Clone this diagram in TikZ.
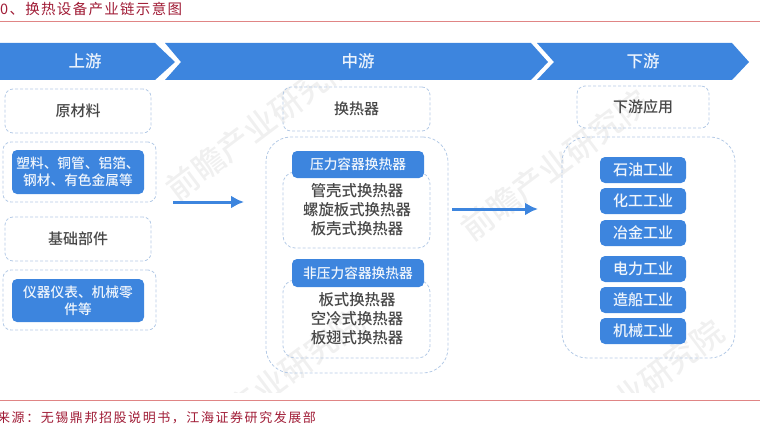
\documentclass[tikz,border=0pt]{standalone}
\usepackage{fontspec}
\setmainfont{Noto Sans CJK SC Medium}
\newfontfamily\titlefont[LetterSpace=9]{Noto Sans CJK SC}
\newfontfamily\sourcefont[LetterSpace=12]{Noto Sans CJK SC}
\usetikzlibrary{arrows.meta}
\definecolor{bandblue}{HTML}{3D85DE}
\definecolor{dashblue}{HTML}{B4CAE6}
\definecolor{titlered}{HTML}{A01C36}
\definecolor{linered}{HTML}{E08585}
\begin{document}
\begin{tikzpicture}[x=1pt,y=-1pt,
    dashbox/.style={draw=dashblue, densely dashed, line width=.8pt, rounded corners=8pt, inner sep=0pt},
    headbox/.style={dashbox, text=black!72, font=\fontsize{15}{15}\selectfont},
    bluebox/.style={fill=bandblue, rounded corners=5pt, inner sep=0pt, text=white!92!bandblue, align=center, font=\fontsize{13.7}{17}\selectfont},
    indbox/.style={bluebox, minimum width=86pt, minimum height=26pt, font=\fontsize{15}{15}\selectfont},
    listtext/.style={text=black!72, align=center, font=\fontsize{15.4}{19}\selectfont},
    bandtext/.style={text=white!90!bandblue, font=\fontsize{16.5}{16.5}\selectfont},
    flow/.style={-{Latex[length=13pt,width=13pt]}, draw=bandblue, line width=3pt},
    mark text/.style={text=black!6, rotate=37, font=\fontsize{32}{32}\selectfont}]
    \useasboundingbox (0,0) rectangle (760,425);
    \begin{scope}
        \clip (0,24) rectangle (760,392);
        \node[mark text] (markone) at (260,125) {前瞻产业研究院};
        \node[mark text] (marktwo) at (555,165) {前瞻产业研究院};
        \node[mark text] (markthree) at (270,385) {前瞻产业研究院};
        \node[mark text] (markfour) at (630,395) {前瞻产业研究院};
    \end{scope}
    \node[anchor=west, inner sep=0pt, text=titlered, font=\titlefont\fontsize{14.5}{15}\selectfont] (title) at (0,9) {0、换热设备产业链示意图};
    \node[anchor=west, inner sep=0pt, text=titlered, font=\sourcefont\fontsize{13}{13}\selectfont] (source) at (-3,418) {来源：无锡鼎邦招股说明书，江海证券研究发展部};
    \coordinate (topl) at (0,22);
    \coordinate (topr) at (760,22);
    \coordinate (botl) at (0,400);
    \coordinate (botr) at (760,400);
    \draw[linered, line width=1pt] (topl) -- (topr);
    \draw[linered, line width=1pt] (botl) -- (botr);
    \fill[bandblue] (0,43) -- (155,43) -- (175,62) -- (155,80) -- (0,80) -- cycle;
    \fill[bandblue] (165,43) -- (531,43) -- (548,62) -- (531,80) -- (165,80) -- (181,62) -- cycle;
    \fill[bandblue] (537,43) -- (732,43) -- (749,62) -- (732,80) -- (537,80) -- (554,62) -- cycle;
    \node[bandtext] (up) at (85,61) {上游};
    \node[bandtext] (mid) at (358,61) {中游};
    \node[bandtext] (down) at (643,61) {下游};
    \node[headbox, minimum width=146pt, minimum height=44pt] (raw) at (78,111) {原材料};
    \node[dashbox, minimum width=153pt, minimum height=60pt] (rawgroup) at (79.5,172) {};
    \node[bluebox, minimum width=132pt, minimum height=44pt] (rawlist) at (78,172) {塑料、铜管、铝箔、\\钢材、有色金属等};
    \node[headbox, minimum width=146pt, minimum height=44pt] (parts) at (78,239) {基础部件};
    \node[dashbox, minimum width=153pt, minimum height=60pt] (partsgroup) at (79.5,300) {};
    \node[bluebox, minimum width=132pt, minimum height=43pt] (partslist) at (78,300.5) {仪器仪表、机械零\\件等};
    \node[headbox, minimum width=147pt, minimum height=44pt] (exch) at (356.5,109) {换热器};
    \node[dashbox, rounded corners=25pt, minimum width=182pt, minimum height=236pt] (exchgroup) at (357,255) {};
    \node[dashbox, rounded corners=12pt, minimum width=147pt, minimum height=76pt] (presslist) at (356.5,210) {};
    \node[dashbox, rounded corners=12pt, minimum width=147pt, minimum height=78pt] (nonlist) at (356.5,319) {};
    \node[bluebox, minimum width=132pt, minimum height=27pt] (press) at (358,164.5) {压力容器换热器};
    \node[bluebox, minimum width=132pt, minimum height=28pt] (nonpress) at (358,273) {非压力容器换热器};
    \node[listtext] (presstext) at (357,210) {管壳式换热器\\螺旋板式换热器\\板壳式换热器};
    \node[listtext] (nontext) at (357,319) {板式换热器\\空冷式换热器\\板翅式换热器};
    \node[headbox, minimum width=132pt, minimum height=42pt] (apply) at (643,107) {下游应用};
    \node[dashbox, rounded corners=25pt, minimum width=173pt, minimum height=221pt] (applygroup) at (648.5,247.5) {};
    \node[indbox] (oil) at (643,170) {石油工业};
    \node[indbox] (chem) at (643,201) {化工工业};
    \node[indbox] (metal) at (643,233) {冶金工业};
    \node[indbox] (power) at (643,269) {电力工业};
    \node[indbox] (ship) at (643,300) {造船工业};
    \node[indbox] (mach) at (643,331) {机械工业};
    \coordinate (flowa) at (173,202);
    \coordinate (flowb) at (244,202);
    \coordinate (flowc) at (452,209);
    \coordinate (flowd) at (538,209);
    \draw[flow] (flowa) -- (flowb);
    \draw[flow] (flowc) -- (flowd);
\end{tikzpicture}
\end{document}
